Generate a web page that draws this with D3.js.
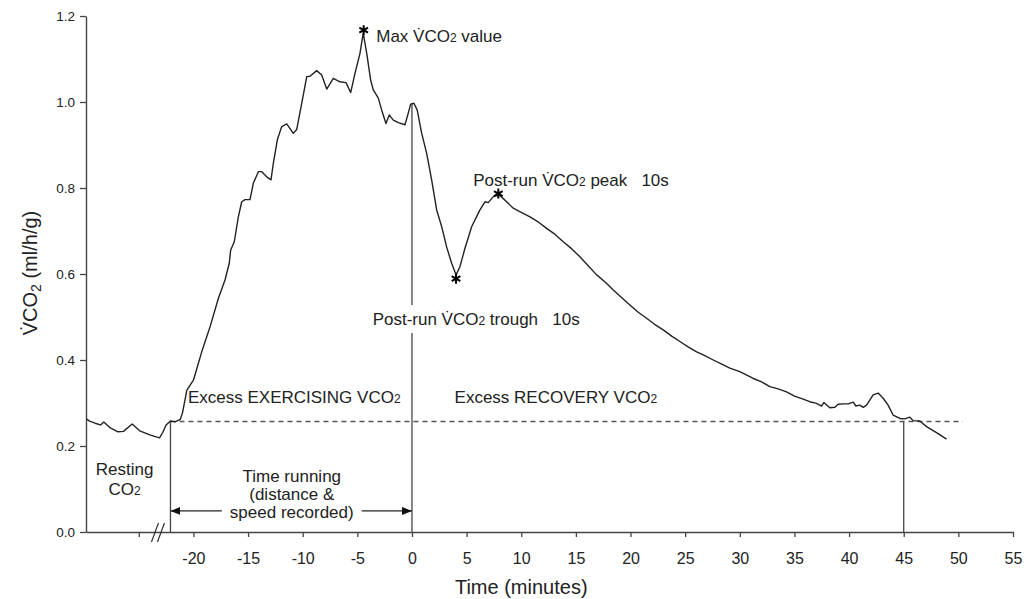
<!DOCTYPE html>
<html>
<head>
<meta charset="utf-8">
<script src="https://cdn.jsdelivr.net/npm/d3@7"></script>
<style>
  body { margin: 0; background: #fff; }
  svg { font-family: "Liberation Sans", Arial, sans-serif; }
  text { white-space: pre; }
</style>
</head>
<body>
<svg id="chart" width="1026" height="599"></svg>
<script>
// Time (minutes) and VCO2 (ml/h/g)
const time = [
  -29.8, -29.5, -29.0, -28.5, -28.2, -27.6, -26.9, -26.4, -25.6, -24.9,
  -24.0, -23.1, -22.8, -22.5, -22.1, -21.7, -21.2, -21.0, -20.6, -20.0,
  -19.24, -18.48, -17.72, -17.11, -16.72, -16.59, -16.26, -15.89, -15.58, -15.28,
  -14.82, -14.52, -14.06, -13.75, -13.29, -12.9, -12.69, -12.32, -11.92, -11.46,
  -10.86, -10.55, -10.09, -9.63, -9.33, -8.72, -8.26, -7.8, -7.2, -6.59,
  -6.04, -5.61, -5.21, -4.76, -4.46, -4.14, -3.78, -3.54, -3.08, -2.77,
  -2.38, -2.08, -1.71, -1.25, -0.64, -0.34, -0.12, 0.18, 0.48, 0.89,
  1.34, 1.80, 2.26, 2.72, 3.17, 3.63, 4.03, 4.39, 4.85, 5.46,
  6.22, 6.68, 6.98, 7.44, 7.99, 8.66, 9.27, 9.73, 10.8, 11.5,
  12.32, 13.1, 13.84, 14.6, 15.37, 16.1, 16.9, 17.7, 18.42, 19.2,
  19.94, 20.7, 21.47, 22.2, 22.99, 23.8, 24.52, 25.3, 26.05, 26.8,
  27.57, 28.3, 29.09, 30.0, 31.23, 32.0, 32.75, 33.5, 34.28, 35.0,
  35.8, 36.4, 37.03, 37.48, 37.69, 38.24, 38.7, 39.0, 39.46, 39.92,
  40.38, 40.62, 40.99, 41.29, 41.6, 42.2, 42.66, 43.12, 43.57, 44.03,
  44.65, 45.1, 45.56, 45.86, 46.47, 47.09, 48.0, 48.92
];
const vco2 = [
  0.263, 0.258, 0.253, 0.249, 0.256, 0.242, 0.233, 0.234, 0.251, 0.235,
  0.226, 0.219, 0.232, 0.249, 0.258, 0.256, 0.262, 0.277, 0.330, 0.353,
  0.419, 0.477, 0.543, 0.586, 0.625, 0.656, 0.675, 0.733, 0.768, 0.773,
  0.773, 0.811, 0.838, 0.838, 0.826, 0.819, 0.857, 0.912, 0.943, 0.949,
  0.927, 0.936, 0.997, 1.059, 1.060, 1.073, 1.063, 1.030, 1.055, 1.047,
  1.045, 1.022, 1.067, 1.113, 1.160, 1.113, 1.051, 1.028, 1.009, 0.981,
  0.950, 0.970, 0.958, 0.952, 0.947, 0.974, 0.995, 0.997, 0.981, 0.927,
  0.881, 0.819, 0.749, 0.710, 0.663, 0.625, 0.598, 0.617, 0.660, 0.710,
  0.749, 0.768, 0.766, 0.780, 0.784, 0.768, 0.753, 0.747, 0.733, 0.722,
  0.706, 0.692, 0.675, 0.659, 0.640, 0.620, 0.598, 0.581, 0.563, 0.545,
  0.528, 0.511, 0.497, 0.483, 0.470, 0.455, 0.443, 0.430, 0.419, 0.410,
  0.400, 0.391, 0.381, 0.373, 0.357, 0.349, 0.338, 0.333, 0.326, 0.316,
  0.309, 0.303, 0.299, 0.293, 0.301, 0.289, 0.290, 0.297, 0.298, 0.298,
  0.302, 0.293, 0.295, 0.290, 0.295, 0.319, 0.323, 0.311, 0.295, 0.272,
  0.264, 0.263, 0.267, 0.259, 0.258, 0.245, 0.231, 0.216
];

const xTicks = [-25, -20, -15, -10, -5, 0, 5, 10, 15, 20, 25, 30, 35, 40, 45, 50, 55];
const yTicks = [0, 0.2, 0.4, 0.6, 0.8, 1.0, 1.2];

// reference levels and event times
const restLevel = 0.257;
const runStart = -22.1, runEnd = 0, recoveryEnd = 45, dashEnd = 50.4;
const arrowLevel = 0.049;
const breakAt = -23.2;

// asterisk markers: max, post-run trough, post-run peak
const markerT = [-4.42, 4.03, 7.9];
const markerV = [1.167, 0.589, 0.787];

const svg = d3.select("#chart");
const x = d3.scaleLinear().domain([-29.83, 55]).range([86, 1013]);
const y = d3.scaleLinear().domain([0, 1.2]).range([532, 16]);
const ink = "#222";

// axes
const gx = svg.append("g")
  .attr("transform", `translate(0,${y(0)})`)
  .call(d3.axisBottom(x).tickValues(xTicks).tickSize(5).tickSizeOuter(0).tickPadding(16)
    .tickFormat(d => d < -20 ? "" : d));
const gy = svg.append("g")
  .attr("transform", `translate(${x.range()[0]},0)`)
  .call(d3.axisLeft(y).tickValues(yTicks).tickSize(6).tickSizeOuter(0).tickPadding(5)
    .tickFormat(d3.format(".1f")));
[gx, gy].forEach(g => {
  g.select(".domain").attr("stroke", "#444").attr("stroke-width", 1.4);
  g.selectAll(".tick line").attr("stroke", "#444").attr("stroke-width", 1.3);
  g.selectAll(".tick text").attr("fill", ink).style("font-family", "Liberation Sans, Arial, sans-serif");
});
gx.selectAll(".tick text").style("font-size", "16px");
gy.selectAll(".tick text").style("font-size", "13.5px");

// axis break marks
[0, 6].forEach(off => {
  svg.append("line")
    .attr("x1", x(breakAt) - 7 + off).attr("y1", y(0) + 10)
    .attr("x2", x(breakAt) + off).attr("y2", y(0) - 9)
    .attr("stroke", "#333").attr("stroke-width", 1.2);
});

// resting level (dashed)
svg.append("line")
  .attr("x1", x(runStart)).attr("x2", x(dashEnd))
  .attr("y1", y(restLevel)).attr("y2", y(restLevel))
  .attr("stroke", "#555").attr("stroke-width", 1.4).attr("stroke-dasharray", "5,4");

// vertical markers
const vAt = t => vco2[d3.bisectLeft(time, t)];
[[runStart, restLevel], [runEnd, vAt(runEnd)], [recoveryEnd, restLevel]].forEach(([t, v]) => {
  svg.append("line")
    .attr("x1", x(t)).attr("x2", x(t))
    .attr("y1", y(0)).attr("y2", y(v))
    .attr("stroke", "#444").attr("stroke-width", 1.3);
});

// the trace
svg.append("path")
  .datum(time.map((t, i) => [t, vco2[i]]))
  .attr("fill", "none")
  .attr("stroke", ink)
  .attr("stroke-width", 1.4)
  .attr("stroke-linejoin", "round")
  .attr("d", d3.line().x(d => x(d[0])).y(d => y(d[1])));

// asterisks
svg.selectAll(".star")
  .data(markerT.map((t, i) => [t, markerV[i]]))
  .join("path")
  .attr("class", "star")
  .attr("transform", d => `translate(${x(d[0])},${y(d[1])})`)
  .attr("d", d3.symbol(d3.symbolAsterisk, 70))
  .attr("fill", "none").attr("stroke", "#000").attr("stroke-width", 2);

// time-running arrow
svg.append("defs").append("marker")
  .attr("id", "head").attr("viewBox", "0 0 10 8")
  .attr("refX", 10).attr("refY", 4)
  .attr("markerWidth", 10).attr("markerHeight", 8)
  .attr("markerUnits", "userSpaceOnUse").attr("orient", "auto")
  .append("path").attr("d", "M0,0L10,4L0,8Z").attr("fill", "#111");
[[-17.4, runStart], [-4.6, runEnd]].forEach(([a, b]) => {
  svg.append("line")
    .attr("x1", x(a)).attr("x2", x(b))
    .attr("y1", y(arrowLevel)).attr("y2", y(arrowLevel))
    .attr("stroke", "#222").attr("stroke-width", 1.3)
    .attr("marker-end", "url(#head)");
});

// annotation text helper: parts are [text, small?]
function label(px, py, parts, anchor, bg) {
  const t = svg.append("text")
    .attr("x", px).attr("y", py)
    .attr("text-anchor", anchor || "start")
    .attr("fill", ink).style("font-size", "17px");
  parts.forEach(p => {
    t.append("tspan").style("font-size", p[1] ? "12px" : null).text(p[0]);
  });
  if (bg) {
    const b = t.node().getBBox();
    svg.insert("rect", () => t.node())
      .attr("x", b.x - 3).attr("y", b.y - 5)
      .attr("width", b.width + 6).attr("height", b.height + 9)
      .attr("fill", "#fff");
  }
  return t;
}

label(x(-4.46) + 13, 41.5, [["Max V\u0307CO"], ["2", 1], [" value"]]);
label(x(5.6), 186, [["Post-run V\u0307CO"], ["2", 1], [" peak   10s"]]);
label(x(-3.6), 325, [["Post-run V\u0307CO"], ["2", 1], [" trough   10s"]], "start", true);
label(x(-20.5), 403, [["Excess EXERCISING VCO"], ["2", 1]]);
label(x(3.9), 403, [["Excess RECOVERY VCO"], ["2", 1]]);
label(x(-26.3), 475, [["Resting"]], "middle");
label(x(-26.3), 495, [["CO"], ["2", 1]], "middle");
label(x(-11.0), 482, [["Time running"]], "middle");
label(x(-11.0), 500, [["(distance &"]], "middle");
label(x(-11.0), 518, [["speed recorded)"]], "middle");

// axis titles
svg.append("text")
  .attr("x", x(10)).attr("y", 594)
  .attr("text-anchor", "middle").attr("fill", ink)
  .style("font-size", "20px").text("Time (minutes)");

const yt = svg.append("text")
  .attr("transform", "translate(37,273) rotate(-90)")
  .attr("text-anchor", "middle").attr("fill", ink)
  .style("font-size", "20px");
yt.append("tspan").text("V\u0307CO");
yt.append("tspan").attr("dy", 4).style("font-size", "14px").text("2");
yt.append("tspan").attr("dy", -4).text(" (ml/h/g)");
</script>
</body>
</html>
